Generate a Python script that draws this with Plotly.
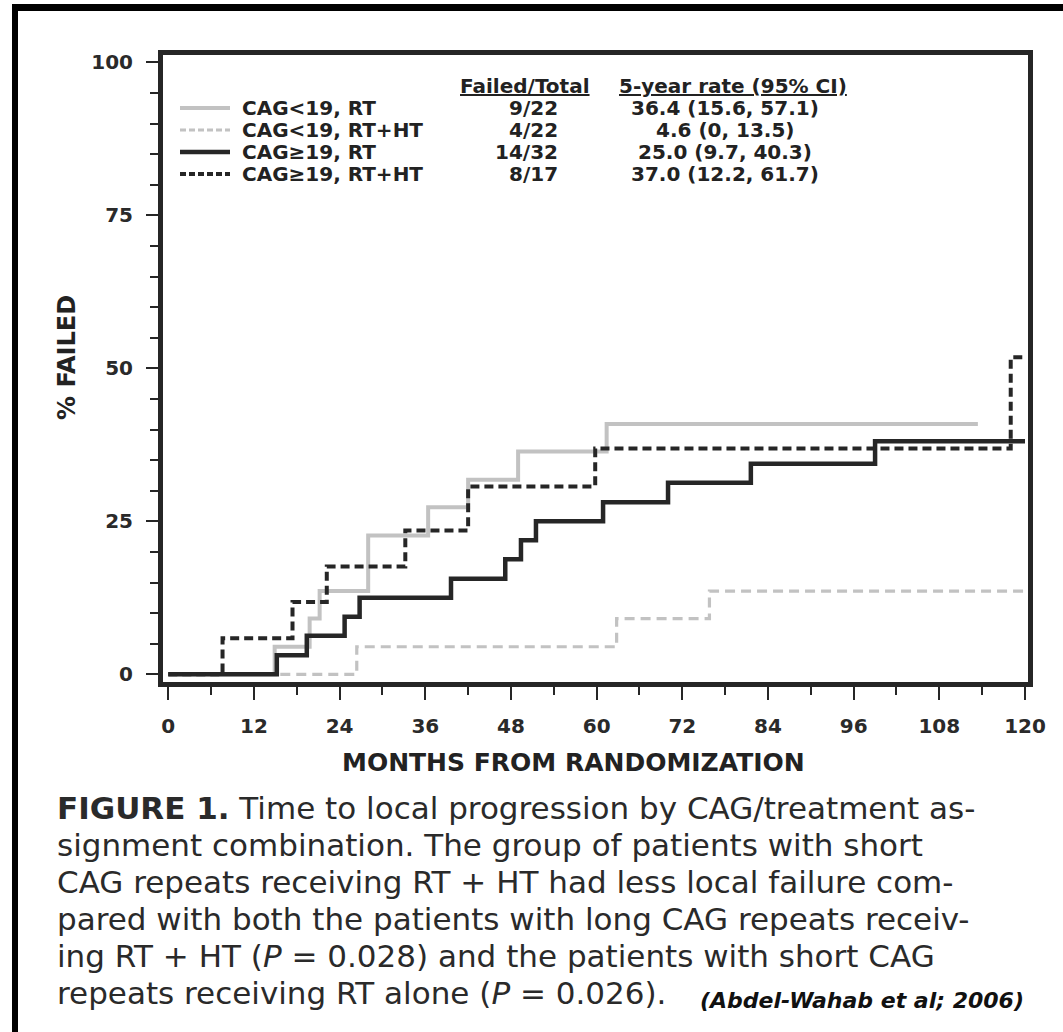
import plotly.graph_objects as go

# ---------------- data ----------------
groups = ["CAG<19, RT", "CAG<19, RT+HT", "CAG≥19, RT", "CAG≥19, RT+HT"]
failed_total = ["9/22", "4/22", "14/32", "8/17"]
five_year_rate = ["36.4 (15.6, 57.1)", "4.6 (0, 13.5)", "25.0 (9.7, 40.3)", "37.0 (12.2, 61.7)"]

months_short_rt = [0, 14.9, 19.8, 21.2, 28.0, 36.4, 42.0, 49.0, 61.4, 113.4]
pct_short_rt = [0, 4.5, 9.1, 13.6, 22.7, 27.3, 31.8, 36.4, 40.9, 40.9]

months_short_rtht = [0, 26.4, 62.8, 75.8, 120]
pct_short_rtht = [0, 4.5, 9.1, 13.6, 13.6]

months_long_rt = [0, 15.2, 19.4, 24.7, 26.8, 39.6, 47.2, 49.4, 51.5, 60.9, 70.0, 81.6, 99.0, 120]
pct_long_rt = [0, 3.1, 6.3, 9.4, 12.5, 15.6, 18.8, 21.9, 25.0, 28.1, 31.3, 34.4, 38.1, 38.1]

months_long_rtht = [0, 7.6, 17.4, 22.2, 33.2, 42.0, 59.8, 118.0, 120]
pct_long_rtht = [0, 5.9, 11.8, 17.6, 23.5, 30.7, 36.9, 51.8, 51.8]

x_ticks = list(range(0, 121, 12))
y_ticks = [0, 25, 50, 75, 100]

caption_lines = [
    "<b>FIGURE 1.</b> Time to local progression by CAG/treatment as-",
    "signment combination. The group of patients with short",
    "CAG repeats receiving RT + HT had less local failure com-",
    "pared with both the patients with long CAG repeats receiv-",
    "ing RT + HT (<i>P</i> = 0.028) and the patients with short CAG",
    "repeats receiving RT alone (<i>P</i> = 0.026).",
]
citation = "(Abdel-Wahab et al; 2006)"

# ---------------- layout geometry (pixels) ----------------
W, H = 1063, 1032
L, R, T, B = 163, 1028, 55, 682


def px(x):
    return (x - L) / (R - L)


def py(y):
    return (B - y) / (B - T)


DARK = "#262626"
GRAY = "#c2c2c2"

styles = [
    dict(color=GRAY, width=4, dash="solid"),
    dict(color=GRAY, width=3.2, dash="10px,6px"),
    dict(color=DARK, width=4.5, dash="solid"),
    dict(color=DARK, width=4, dash="9px,5px"),
]
legend_dash = ["solid", "6px,3px", "solid", "6px,3px"]

series = [
    (months_short_rt, pct_short_rt),
    (months_short_rtht, pct_short_rtht),
    (months_long_rt, pct_long_rt),
    (months_long_rtht, pct_long_rtht),
]

fig = go.Figure()
draw_order = [1, 0, 2, 3]
for i in draw_order:
    xs, ys = series[i]
    fig.add_trace(go.Scatter(
        x=xs, y=ys, mode="lines", name=groups[i],
        line=dict(shape="hv", **styles[i]), showlegend=False,
        hoverinfo="skip",
    ))

WIDE = "DejaVu Sans, Liberation Sans, Arial, sans-serif"
tickfont = dict(family=WIDE, size=20, color="#2a2a2a")

fig.update_layout(
    width=W, height=H,
    margin=dict(l=L, r=W - R, t=T, b=H - B, pad=0),
    paper_bgcolor="white", plot_bgcolor="white",
    xaxis=dict(
        range=[-0.74, 120.42], tickvals=x_ticks,
        ticktext=[f"<b>{v}</b>" for v in x_ticks],
        ticks="outside", ticklen=13, tickwidth=2, tickcolor=DARK,
        minor=dict(dtick=6, tick0=0, ticks="outside", ticklen=8, tickwidth=2, tickcolor=DARK),
        showline=True, linewidth=5, linecolor=DARK, mirror=True,
        showgrid=False, zeroline=False, tickfont=tickfont,
        ticklabelstandoff=9,
    ),
    yaxis=dict(
        range=[-1.26, 101.2], tickvals=y_ticks,
        ticktext=[f"<b>{v}</b>" for v in y_ticks],
        ticks="outside", ticklen=12, tickwidth=2, tickcolor=DARK,
        minor=dict(dtick=5, tick0=0, ticks="outside", ticklen=8, tickwidth=2, tickcolor=DARK),
        showline=True, linewidth=5, linecolor=DARK, mirror=True,
        showgrid=False, zeroline=False, tickfont=tickfont,
        ticklabelstandoff=9,
    ),
    showlegend=False,
)

ann = []
shapes = []

# axis titles
ann.append(dict(x=px(573), y=py(762), xref="paper", yref="paper", showarrow=False,
                text="<b>MONTHS FROM RANDOMIZATION</b>", font=dict(family=WIDE, size=25, color="#222"),
                xanchor="center", yanchor="middle"))
ann.append(dict(x=px(67), y=py(358), xref="paper", yref="paper", showarrow=False, textangle=-90,
                text="<b>% FAILED</b>", font=dict(family=WIDE, size=24, color="#222"),
                xanchor="center", yanchor="middle"))

# legend table
lf = dict(family=WIDE, size=20, color="#222")
ann.append(dict(x=px(525), y=py(86), xref="paper", yref="paper", showarrow=False,
                text="<b><u>Failed/Total</u></b>", font=lf, xanchor="center", yanchor="middle"))
ann.append(dict(x=px(733), y=py(86), xref="paper", yref="paper", showarrow=False,
                text="<b><u>5-year rate (95% CI)</u></b>", font=lf, xanchor="center", yanchor="middle"))
row_y = [108, 130, 152, 174]
for i in range(4):
    yy = py(row_y[i])
    st = styles[i]
    shapes.append(dict(type="line", xref="paper", yref="paper", x0=px(180), x1=px(230), y0=yy, y1=yy,
                       line=dict(color=st["color"], width=st["width"], dash=legend_dash[i])))
    ann.append(dict(x=px(240), y=yy, xref="paper", yref="paper", showarrow=False,
                    text=f"<b>{groups[i]}</b>", font=lf, xanchor="left", yanchor="middle"))
    ann.append(dict(x=px(560), y=yy, xref="paper", yref="paper", showarrow=False,
                    text=f"<b>{failed_total[i]}</b>", font=lf, xanchor="right", yanchor="middle"))
    ann.append(dict(x=px(725), y=yy, xref="paper", yref="paper", showarrow=False,
                    text=f"<b>{five_year_rate[i]}</b>", font=lf, xanchor="center", yanchor="middle"))

# caption
cap_font = dict(family="DejaVu Sans, Open Sans, sans-serif", size=31, color="#2a2a2a")
cap_y = [808, 845, 882, 919, 956, 993]
for line, yv in zip(caption_lines, cap_y):
    ann.append(dict(x=px(55), y=py(yv), xref="paper", yref="paper", showarrow=False,
                    text=line, font=cap_font, xanchor="left", yanchor="middle"))
ann.append(dict(x=px(1026), y=py(1000), xref="paper", yref="paper", showarrow=False,
                text=f"<b><i>{citation}</i></b>", font=dict(family=WIDE, size=22, color="#111"),
                xanchor="right", yanchor="middle"))

# outer figure frame (top and left)
shapes.append(dict(type="rect", xref="paper", yref="paper", x0=px(12), x1=px(1063), y0=py(11), y1=py(4),
                   fillcolor="black", line=dict(width=0), layer="above"))
shapes.append(dict(type="rect", xref="paper", yref="paper", x0=px(12), x1=px(18), y0=py(1032), y1=py(4),
                   fillcolor="black", line=dict(width=0), layer="above"))

fig.update_layout(annotations=ann, shapes=shapes)
fig.write_html("out.html")
